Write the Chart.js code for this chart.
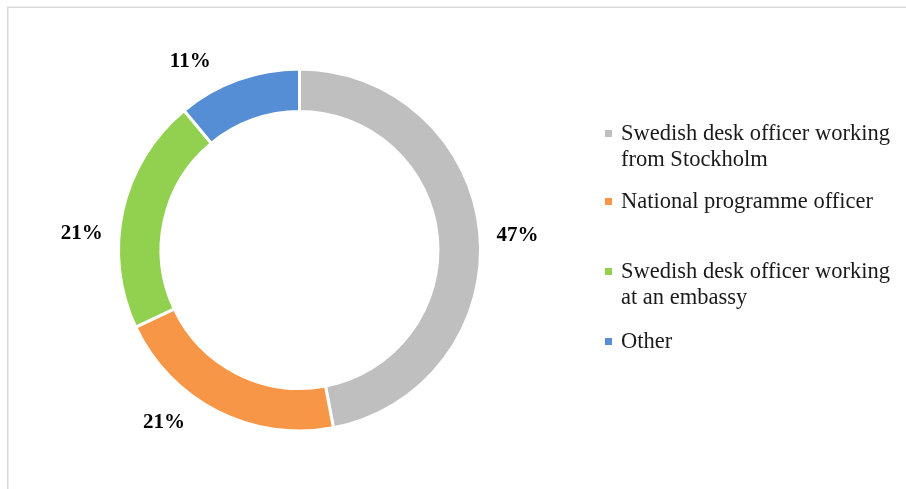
<!DOCTYPE html>
<html>
<head>
<meta charset="utf-8">
<script src="https://cdn.jsdelivr.net/npm/chart.js@4/dist/chart.umd.min.js"></script>
<style>
  html, body { margin: 0; padding: 0; background: #fff; }
  #wrap { width: 906px; height: 489px; position: relative; }
</style>
</head>
<body>
<div id="wrap"><canvas id="c" width="906" height="489"></canvas></div>
<script>
// ---- data ----
const categories = [
  "Swedish desk officer working from Stockholm",
  "National programme officer",
  "Swedish desk officer working at an embassy",
  "Other"
];
const legendLines = [
  ["Swedish desk officer working", "from Stockholm"],
  ["National programme officer"],
  ["Swedish desk officer working", "at an embassy"],
  ["Other"]
];
const shares = [47, 21, 21, 11];
const percentLabels = ["47%", "21%", "21%", "11%"];
const colors = ["#BFBFBF", "#F79646", "#92D050", "#558ED5"];

// label angle nudges (degrees) to mimic the original manual placement
const labelAngleShift = [1.4, 11.3, -7.9, -10.2];

const frame = {
  id: 'frame',
  beforeDraw(chart) {
    const ctx = chart.ctx;
    ctx.save();
    ctx.strokeStyle = '#D9D9D9';
    ctx.lineWidth = 1.5;
    ctx.beginPath();
    ctx.moveTo(7.75, 489);
    ctx.lineTo(7.75, 7.25);
    ctx.lineTo(906, 7.25);
    ctx.stroke();
    ctx.restore();
  }
};

const outsideLabels = {
  id: 'outsideLabels',
  afterDatasetsDraw(chart) {
    const ctx = chart.ctx;
    const meta = chart.getDatasetMeta(0);
    ctx.save();
    ctx.font = 'bold 21px "Liberation Serif"';
    ctx.fillStyle = '#000';
    ctx.textAlign = 'center';
    ctx.textBaseline = 'middle';
    meta.data.forEach((arc, i) => {
      const p = arc.getProps(['x', 'y', 'startAngle', 'endAngle', 'outerRadius'], true);
      const a = (p.startAngle + p.endAngle) / 2 + labelAngleShift[i] * Math.PI / 180;
      const r = p.outerRadius + 37.5;
      ctx.fillText(percentLabels[i], p.x + Math.cos(a) * r, p.y + Math.sin(a) * r + 1);
    });
    ctx.restore();
  }
};

const sideLegend = {
  id: 'sideLegend',
  afterDraw(chart) {
    const ctx = chart.ctx;
    const ds = chart.data.datasets[0];
    const firstY = [134, 202, 272, 342];
    const lineGap = 26;
    ctx.save();
    ctx.font = '22.5px "Liberation Serif"';
    ctx.textBaseline = 'middle';
    ctx.textAlign = 'left';
    legendLines.forEach((lines, i) => {
      const y0 = firstY[i];
      ctx.fillStyle = ds.backgroundColor[i];
      ctx.fillRect(605, y0 - 4, 7, 7);
      ctx.fillStyle = '#1a1a1a';
      lines.forEach((t, k) => ctx.fillText(t, 621, y0 + k * lineGap));
    });
    ctx.restore();
  }
};

new Chart(document.getElementById('c'), {
  type: 'doughnut',
  data: {
    labels: categories,
    datasets: [{
      data: shares,
      backgroundColor: colors,
      borderColor: '#FFFFFF',
      borderWidth: 3,
      hoverOffset: 0
    }]
  },
  options: {
    responsive: false,
    animation: false,
    cutout: '76.5%',
    layout: { padding: { left: 117, right: 424, top: 67, bottom: 56 } },
    plugins: {
      legend: { display: false },
      tooltip: { enabled: false }
    },
    events: []
  },
  plugins: [frame, outsideLabels, sideLegend]
});
</script>
</body>
</html>
